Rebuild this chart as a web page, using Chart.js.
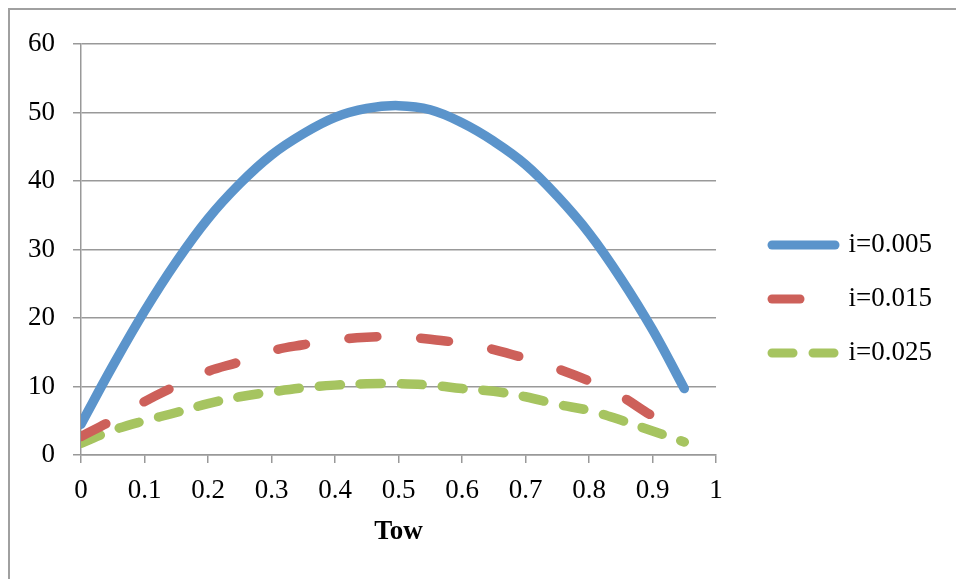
<!DOCTYPE html>
<html>
<head>
<meta charset="utf-8">
<script src="https://cdn.jsdelivr.net/npm/chart.js@4.4.1/dist/chart.umd.min.js"></script>
<style>
  html, body { margin: 0; padding: 0; background: #fff; }
  #wrap { position: relative; width: 956px; height: 579px; }
</style>
</head>
<body>
<div id="wrap"><canvas id="chart"></canvas></div>
<script>
// Tow values (x) and the three series
const tow = [0, 0.05, 0.1, 0.15, 0.2, 0.25, 0.3, 0.35, 0.4, 0.45,
             0.5, 0.55, 0.6, 0.65, 0.7, 0.75, 0.8, 0.85, 0.9, 0.95];
const seriesLabels = ['i=0.005', 'i=0.015', 'i=0.025'];
const valuesI005 = [4.5, 13.0, 21.0, 28.2, 34.5, 39.6, 43.8, 46.9, 49.3, 50.6,
                    51.0, 50.4, 48.5, 45.8, 42.4, 37.8, 32.4, 25.8, 18.3, 9.7];
const valuesI015 = [2.7, 5.1, 7.8, 10.1, 12.2, 13.6, 15.2, 16.1, 16.8, 17.2,
                    17.3, 16.9, 16.3, 15.4, 14.1, 12.6, 10.8, 8.6, 5.7, 3.4];
const valuesI025 = [1.7, 3.6, 5.0, 6.2, 7.5, 8.5, 9.2, 9.8, 10.2, 10.4,
                    10.4, 10.2, 9.7, 9.3, 8.5, 7.4, 6.5, 5.1, 3.5, 1.9];
const xTitle = 'Tow';

const FONT = 'Liberation Serif';
const gridColor = '#999';

function toPoints(values) {
  return tow.map((x, i) => ({ x: x, y: values[i] }));
}

function makeSeries(label, values, color, dash) {
  return {
    label: label,
    data: toPoints(values),
    borderColor: color,
    backgroundColor: color,
    borderWidth: 9.5,
    borderDash: dash,
    borderCapStyle: 'round',
    borderJoinStyle: 'round',
    pointRadius: 0,
    pointHoverRadius: 0,
    tension: 0.4,
    fill: false
  };
}

// grey frame on the left and top, as in the picture
const framePlugin = {
  id: 'frame',
  beforeDraw(chart) {
    const ctx = chart.ctx;
    ctx.save();
    ctx.strokeStyle = '#a0a0a0';
    ctx.lineWidth = 2;
    ctx.beginPath();
    ctx.moveTo(9, chart.height);
    ctx.lineTo(9, 9);
    ctx.lineTo(chart.width, 9);
    ctx.stroke();
    ctx.restore();
  }
};

// push the legend a bit away from the plot
const legendShift = {
  id: 'legendShift',
  afterLayout(chart) {
    chart.legend.left += 29;
    chart.legend.right += 29;
  }
};

const ctx = document.getElementById('chart').getContext('2d');
new Chart(ctx, {
  type: 'line',
  data: {
    datasets: [
      makeSeries(seriesLabels[0], valuesI005, '#5b94cb', []),
      makeSeries(seriesLabels[1], valuesI015, '#cd605a', [28, 44]),
      makeSeries(seriesLabels[2], valuesI025, '#a6c460', [21, 20])
    ]
  },
  options: {
    responsive: true,
    maintainAspectRatio: false,
    animation: false,
    layout: { padding: { top: 44, right: 43, bottom: 25, left: 0 } },
    plugins: {
      tooltip: { enabled: false },
      legend: {
        position: 'right',
        labels: {
          usePointStyle: true,
          pointStyleWidth: 63,
          padding: 27,
          color: '#000',
          font: { family: FONT, size: 27 },
          generateLabels(chart) {
            return chart.data.datasets.map((ds, i) => ({
              text: ds.label,
              datasetIndex: i,
              fillStyle: ds.borderColor,
              strokeStyle: ds.borderColor,
              lineWidth: 9,
              lineDash: ds.borderDash,
              lineCap: 'round',
              pointStyle: 'line',
              fontColor: '#000',
              hidden: false
            }));
          }
        }
      }
    },
    scales: {
      x: {
        type: 'linear',
        min: 0,
        max: 1,
        ticks: {
          stepSize: 0.1,
          padding: 12,
          color: '#000',
          font: { family: FONT, size: 27 },
          maxRotation: 0,
          callback: v => String(Number(v.toFixed(1)))
        },
        grid: { drawOnChartArea: false, drawTicks: true, tickLength: 8, color: gridColor, lineWidth: 1.5 },
        border: { display: true, color: gridColor, width: 1.5 },
        title: {
          display: true,
          text: xTitle,
          color: '#000',
          font: { family: FONT, size: 27, weight: 'bold' },
          padding: { top: 0, bottom: 6 }
        },
        afterFit(scale) { scale.height = 99; }
      },
      y: {
        min: 0,
        max: 60,
        ticks: {
          stepSize: 10,
          padding: 18,
          color: '#000',
          font: { family: FONT, size: 27 }
        },
        grid: { color: gridColor, lineWidth: 1.5, tickLength: 8 },
        border: { display: true, color: gridColor, width: 1.5 },
        afterFit(scale) { scale.width = 81; }
      }
    }
  },
  plugins: [framePlugin, legendShift]
});
</script>
</body>
</html>
